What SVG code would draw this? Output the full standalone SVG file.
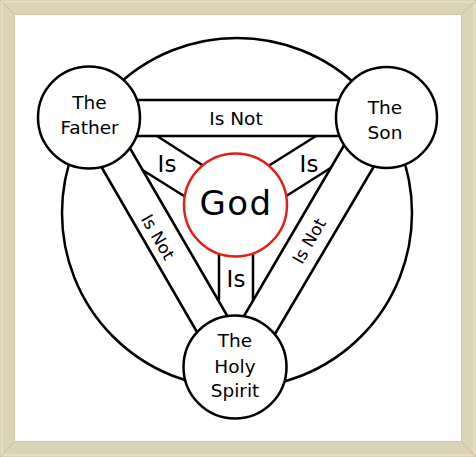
<svg xmlns="http://www.w3.org/2000/svg" width="476" height="457" viewBox="0 0 476 457">
<style>
.ln{stroke:#000;stroke-width:2.5;fill:none;stroke-linecap:round}
.nd{fill:#fff;stroke:#000;stroke-width:2.5}
.god{fill:#fff;stroke:#e0201b;stroke-width:2.5}
text{font-family:"DejaVu Sans","Liberation Sans",sans-serif;fill:#000;text-anchor:middle}
.lbl{font-size:18.5px}
.is{font-size:23px}
.isn{font-size:17px}
.frame{stroke:#c8bd9c;stroke-width:1;fill:none}
</style>
<g id="frame">
<rect x="0" y="0" width="476" height="457" fill="#dcd3b5"/>
<rect x="2" y="2" width="472" height="453" fill="none" stroke="#e6dec4" stroke-width="2"/>
<rect x="15" y="15" width="446" height="426" fill="#fff"/>
<path class="frame" d="M0 0L15 15M476 0L461 15M0 457L15 441M476 457L461 441"/>
<rect x="14.5" y="14.5" width="447" height="427" fill="none" stroke="#cfc5a6" stroke-width="1"/>
</g>
<g id="outer-circle">
<circle cx="237" cy="213" r="175" class="ln"/>
</g>
<g id="connectors">
<line class="ln" x1="89" y1="100" x2="386" y2="100"/>
<line class="ln" x1="89" y1="136" x2="386" y2="136"/>
<line class="ln" x1="157" y1="136" x2="210" y2="170"/>
<line class="ln" x1="142.5" y1="170" x2="192" y2="201"/>
<line class="ln" x1="316" y1="136" x2="262" y2="170"/>
<line class="ln" x1="330.5" y1="168" x2="280" y2="200"/>
<line class="ln" x1="219" y1="235" x2="219" y2="299"/>
<line class="ln" x1="253" y1="235" x2="253" y2="300"/>
<line class="ln" x1="91.6" y1="150" x2="204.5" y2="345"/>
<line class="ln" x1="125.2" y1="140" x2="235.5" y2="330"/>
<line class="ln" x1="348.9" y1="137" x2="235.8" y2="330"/>
<line class="ln" x1="383.6" y1="150" x2="268.5" y2="345"/>
<text class="lbl" x="236" y="125">Is Not</text>
<text class="is" x="167" y="172">Is</text>
<text class="is" x="309" y="172">Is</text>
<text class="is" x="236" y="287">Is</text>
<text class="isn" transform="translate(158,237) rotate(60)" y="6">Is Not</text>
<text class="isn" transform="translate(309,241) rotate(-60)" y="6">Is Not</text>
</g>
<g id="father">
<circle class="nd" cx="89" cy="117.5" r="51"/>
<text class="lbl" x="89.5" y="108.5">The</text>
<text class="lbl" x="89.5" y="133.5">Father</text>
</g>
<g id="son">
<circle class="nd" cx="386.5" cy="117.5" r="50.5"/>
<text class="lbl" x="385" y="113.5">The</text>
<text class="lbl" x="385" y="138.5">Son</text>
</g>
<g id="spirit">
<circle class="nd" cx="235" cy="367" r="51.5"/>
<text class="lbl" x="235" y="346.5">The</text>
<text class="lbl" x="235" y="372.5">Holy</text>
<text class="lbl" x="235" y="396.5">Spirit</text>
</g>
<g id="god">
<circle class="god" cx="235.5" cy="205" r="51.5"/>
<text x="236" y="215" style="font-size:34px;letter-spacing:1.5px">God</text>
</g>
</svg>
